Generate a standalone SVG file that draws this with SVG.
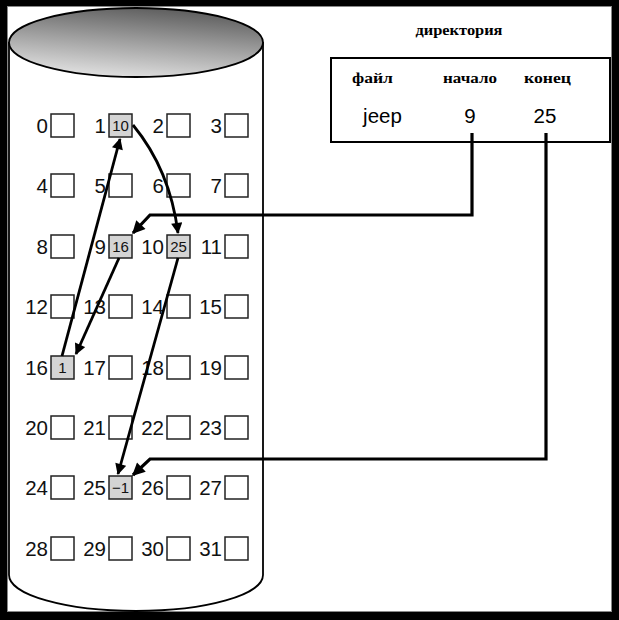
<svg xmlns="http://www.w3.org/2000/svg" width="619" height="620" viewBox="0 0 619 620">
<defs>
<linearGradient id="top" x1="0.65" y1="0" x2="0.35" y2="1">
<stop offset="0" stop-color="#5c5c5c"/>
<stop offset="0.5" stop-color="#a0a0a0"/>
<stop offset="1" stop-color="#e2e2e2"/>
</linearGradient>
<marker id="ah" viewBox="0 0 10 10" refX="9" refY="5" markerWidth="5" markerHeight="4" orient="auto" markerUnits="strokeWidth">
<path d="M0,0 L10,5 L0,10 Z" fill="#000"/>
</marker>
</defs>
<style>
.box{fill:#fff;stroke:#222;stroke-width:1.5}
.used{fill:#d4d4d4;stroke:#222;stroke-width:1.5}
.lbl{font-family:"Liberation Sans",Arial,sans-serif;font-size:20.5px;fill:#111;text-anchor:end}
.val{font-family:"Liberation Sans",Arial,sans-serif;font-size:15px;fill:#111;text-anchor:middle}
.hd{font-family:"Liberation Serif","Times New Roman",serif;font-weight:bold;font-size:15.5px;fill:#000;text-anchor:middle}
.dv{font-family:"Liberation Sans",Arial,sans-serif;font-size:20.5px;fill:#000;text-anchor:middle}
.ln{fill:none;stroke:#000;stroke-width:3.2}
.ch{fill:none;stroke:#000;stroke-width:2.8}
</style>
<rect x="0" y="0" width="619" height="620" fill="#000"/>
<rect x="7.5" y="6.5" width="604" height="605" fill="#fff" stroke="#888" stroke-width="1"/>
<g id="disk">
<path d="M9,42 L9,575 A127,36 0 0 0 263,575 L263,42" fill="#fff" stroke="#000" stroke-width="1.8"/>
<ellipse cx="136" cy="42.5" rx="127" ry="34.5" fill="url(#top)" stroke="#000" stroke-width="1.8"/>
</g>
<g id="blocks">
<g id="b0"><text class="lbl" x="48" y="133">0</text><rect class="box" x="51" y="114" width="23" height="23"/></g>
<g id="b1"><text class="lbl" x="106" y="133">1</text><rect class="used" x="109" y="114" width="23" height="23"/><text class="val" x="120.5" y="131">10</text></g>
<g id="b2"><text class="lbl" x="164" y="133">2</text><rect class="box" x="167" y="114" width="23" height="23"/></g>
<g id="b3"><text class="lbl" x="222" y="133">3</text><rect class="box" x="225" y="114" width="23" height="23"/></g>
<g id="b4"><text class="lbl" x="48" y="193">4</text><rect class="box" x="51" y="174" width="23" height="23"/></g>
<g id="b5"><text class="lbl" x="106" y="193">5</text><rect class="box" x="109" y="174" width="23" height="23"/></g>
<g id="b6"><text class="lbl" x="164" y="193">6</text><rect class="box" x="167" y="174" width="23" height="23"/></g>
<g id="b7"><text class="lbl" x="222" y="193">7</text><rect class="box" x="225" y="174" width="23" height="23"/></g>
<g id="b8"><text class="lbl" x="48" y="254">8</text><rect class="box" x="51" y="235" width="23" height="23"/></g>
<g id="b9"><text class="lbl" x="106" y="254">9</text><rect class="used" x="109" y="235" width="23" height="23"/><text class="val" x="120.5" y="252">16</text></g>
<g id="b10"><text class="lbl" x="164" y="254">10</text><rect class="used" x="167" y="235" width="23" height="23"/><text class="val" x="178.5" y="252">25</text></g>
<g id="b11"><text class="lbl" x="222" y="254">11</text><rect class="box" x="225" y="235" width="23" height="23"/></g>
<g id="b12"><text class="lbl" x="48" y="314">12</text><rect class="box" x="51" y="295" width="23" height="23"/></g>
<g id="b13"><text class="lbl" x="106" y="314">13</text><rect class="box" x="109" y="295" width="23" height="23"/></g>
<g id="b14"><text class="lbl" x="164" y="314">14</text><rect class="box" x="167" y="295" width="23" height="23"/></g>
<g id="b15"><text class="lbl" x="222" y="314">15</text><rect class="box" x="225" y="295" width="23" height="23"/></g>
<g id="b16"><text class="lbl" x="48" y="375">16</text><rect class="used" x="51" y="356" width="23" height="23"/><text class="val" x="62.5" y="373">1</text></g>
<g id="b17"><text class="lbl" x="106" y="375">17</text><rect class="box" x="109" y="356" width="23" height="23"/></g>
<g id="b18"><text class="lbl" x="164" y="375">18</text><rect class="box" x="167" y="356" width="23" height="23"/></g>
<g id="b19"><text class="lbl" x="222" y="375">19</text><rect class="box" x="225" y="356" width="23" height="23"/></g>
<g id="b20"><text class="lbl" x="48" y="435">20</text><rect class="box" x="51" y="416" width="23" height="23"/></g>
<g id="b21"><text class="lbl" x="106" y="435">21</text><rect class="box" x="109" y="416" width="23" height="23"/></g>
<g id="b22"><text class="lbl" x="164" y="435">22</text><rect class="box" x="167" y="416" width="23" height="23"/></g>
<g id="b23"><text class="lbl" x="222" y="435">23</text><rect class="box" x="225" y="416" width="23" height="23"/></g>
<g id="b24"><text class="lbl" x="48" y="495">24</text><rect class="box" x="51" y="476" width="23" height="23"/></g>
<g id="b25"><text class="lbl" x="106" y="495">25</text><rect class="used" x="109" y="476" width="23" height="23"/><text class="val" x="120.5" y="493">−1</text></g>
<g id="b26"><text class="lbl" x="164" y="495">26</text><rect class="box" x="167" y="476" width="23" height="23"/></g>
<g id="b27"><text class="lbl" x="222" y="495">27</text><rect class="box" x="225" y="476" width="23" height="23"/></g>
<g id="b28"><text class="lbl" x="48" y="556">28</text><rect class="box" x="51" y="537" width="23" height="23"/></g>
<g id="b29"><text class="lbl" x="106" y="556">29</text><rect class="box" x="109" y="537" width="23" height="23"/></g>
<g id="b30"><text class="lbl" x="164" y="556">30</text><rect class="box" x="167" y="537" width="23" height="23"/></g>
<g id="b31"><text class="lbl" x="222" y="556">31</text><rect class="box" x="225" y="537" width="23" height="23"/></g>
</g>
<g id="directory">
<text class="hd" x="459" y="35" textLength="87" lengthAdjust="spacingAndGlyphs">директория</text>
<rect x="331" y="58" width="279" height="84" fill="#fff" stroke="#000" stroke-width="2"/>
<text class="hd" x="372.5" y="83" textLength="41" lengthAdjust="spacingAndGlyphs">файл</text>
<text class="hd" x="470" y="83" textLength="54" lengthAdjust="spacingAndGlyphs">начало</text>
<text class="hd" x="547.5" y="83" textLength="47" lengthAdjust="spacingAndGlyphs">конец</text>
<text class="dv" x="382.5" y="123">jeep</text>
<text class="dv" x="470" y="123">9</text>
<text class="dv" x="545" y="123">25</text>
</g>
<g id="connectors">
<path class="ln" d="M472,133 L472,215 L150,215 L133,233" marker-end="url(#ah)"/>
<path class="ln" d="M546,133 L546,459 L150,459 L133,475" marker-end="url(#ah)"/>
<path class="ch" d="M133,125 Q170,170 178,233" marker-end="url(#ah)"/>
<path class="ch" d="M178,258 L118,474" marker-end="url(#ah)"/>
<path class="ch" d="M119,258 L76,354" marker-end="url(#ah)"/>
<path class="ch" d="M62,356 L120,139" marker-end="url(#ah)"/>
</g>
</svg>
